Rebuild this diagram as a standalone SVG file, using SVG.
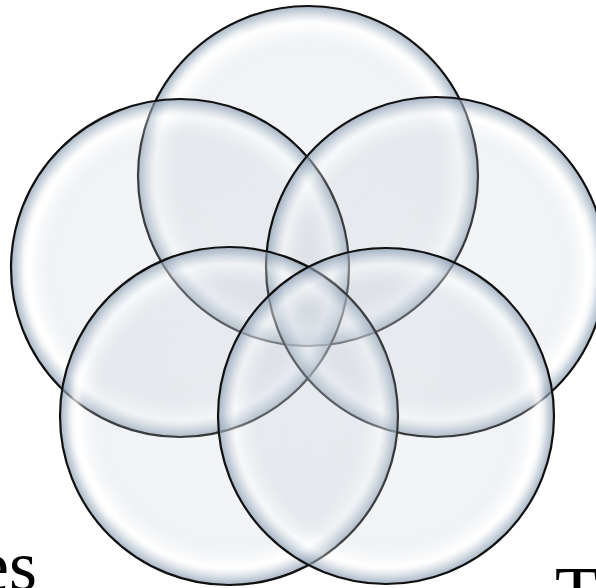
<svg xmlns="http://www.w3.org/2000/svg" width="596" height="588" viewBox="0 0 596 588">
  <defs>
    <radialGradient id="bubble" cx="0.5" cy="0.5" r="0.5">
      <stop offset="0" stop-color="#c4ccd6" stop-opacity="0.2"/>
      <stop offset="0.78" stop-color="#c4ccd6" stop-opacity="0.25"/>
      <stop offset="0.9" stop-color="#ffffff" stop-opacity="0.35"/>
      <stop offset="0.96" stop-color="#a9b8c8" stop-opacity="0.55"/>
      <stop offset="1" stop-color="#8a9cb0" stop-opacity="0.75"/>
    </radialGradient>
    <filter id="soft" x="-20%" y="-20%" width="140%" height="140%">
      <feGaussianBlur stdDeviation="3"/>
    </filter>
  </defs>
  <style>
    .disc { fill: url(#bubble); stroke: #111; stroke-width: 2.2; }
    .shine { fill: none; stroke: #ffffff; stroke-width: 7; stroke-opacity: 0.75; stroke-linecap: round; filter: url(#soft); }
    .label { font-family: "Liberation Serif", "Times New Roman", serif; font-size: 72px; fill: #000; }
  </style>
  <rect width="596" height="588" fill="#ffffff"/>
  <g id="circle-top">
    <circle class="disc" cx="308" cy="176" r="170"/>
    <path class="shine" d="M157.3,135.6 A156,156 0 0 1 242,34.6"/>
  </g>
  <g id="circle-left">
    <circle class="disc" cx="180" cy="268" r="169"/>
    <path class="shine" d="M47.5,344.5 A153,153 0 0 1 54.7,180.2"/>
  </g>
  <g id="circle-right">
    <circle class="disc" cx="436" cy="267" r="170"/>
    <path class="shine" d="M581.7,214 A155,155 0 0 1 554.7,366.7"/>
  </g>
  <g id="circle-bottom-left">
    <circle class="disc" cx="229" cy="416" r="169"/>
    <path class="shine" d="M111,515 A154,154 0 0 1 84.3,363.3"/>
  </g>
  <g id="circle-bottom-right">
    <circle class="disc" cx="386" cy="416" r="168"/>
    <path class="shine" d="M529.8,363.7 A153,153 0 0 1 503.2,514.3"/>
  </g>
  <text class="label" x="37" y="590" text-anchor="end">es</text>
  <text class="label" x="555" y="616">T</text>
</svg>
